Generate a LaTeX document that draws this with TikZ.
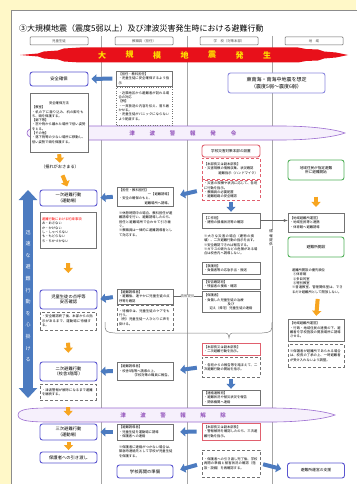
\documentclass[tikz,border=0pt]{standalone}
\usepackage{fontspec}
\setmainfont{Noto Sans CJK JP}
\XeTeXlinebreaklocale "ja"
\XeTeXlinebreakskip=0pt plus 0.5pt
\usepackage{tikz}
\usetikzlibrary{arrows.meta,calc}
\definecolor{pagebg}{HTML}{FFF8C8}
\definecolor{keyblue}{HTML}{5A55D0}
\definecolor{keygreen}{HTML}{52B05A}
\definecolor{boxred}{HTML}{E0606E}
\definecolor{arrblue}{HTML}{4C7BC0}
\definecolor{arrorange}{HTML}{F7A520}
\definecolor{bandred}{HTML}{E8101A}
\definecolor{bandtext}{HTML}{FFE100}
\definecolor{tsuline}{HTML}{9B6BD0}
\definecolor{tsufill}{HTML}{F6F0FC}
\definecolor{tsutext}{HTML}{9A5FC0}

\begin{document}
\begin{tikzpicture}[>=latex, x=1pt, y=-1pt,
  every node/.style={inner sep=0pt},
  txt/.style={font=\fontsize{3.3}{4.3}\selectfont, align=left, inner xsep=2pt, inner ysep=1.5pt, text width=52pt},
  plainbox/.style={txt, draw=black!55, line width=.4pt, fill=white},
  dashbox/.style={plainbox, densely dashed},
  redbox/.style={plainbox, draw=boxred, line width=.6pt},
  reddash/.style={redbox, densely dashed},
  keybox/.style={draw=keyblue, line width=.9pt, rounded corners=2.5pt, fill=white, align=center, font=\fontsize{4.3}{5.3}\selectfont, minimum width=57pt},
  gkeybox/.style={keybox, draw=keygreen},
  headbox/.style={draw=black!60, line width=.5pt, rounded corners=.8pt, minimum width=58pt, minimum height=8pt, font=\fontsize{3.4}{4}\selectfont, text=black!70},
  colline/.style={draw=black!35, line width=.4pt},
  barrow/.style={line width=4pt, draw=arrblue, -{Triangle[width=9pt,length=5pt]}, shorten <=4pt, shorten >=3pt},
  oarrow/.style={line width=4pt, draw=arrorange, -{Triangle[width=9pt,length=5pt]}},
  tsuband/.style={draw=tsuline, line width=.6pt, fill=tsufill},
  tsu/.style={text=tsutext, font=\fontsize{5.5}{6}\selectfont\bfseries}
]
\useasboundingbox (0,0) rectangle (356,484);
\fill[pagebg] (0,0) rectangle (356,484);
\draw[black!45, fill=white, line width=.6pt] (11,10) rectangle (362,490);

\node[anchor=west, font=\fontsize{8}{9}\selectfont] (title) at (19,28) {③大規模地震（震度5弱以上）及び津波災害発生時における避難行動};
\node[headbox] (h1) at (59,41) {児童生徒};
\node[headbox] (h2) at (144,41) {教職員（担任）};
\node[headbox] (h3) at (229,41) {学\quad 校（対策本部）};
\node[headbox] (h4) at (314,41) {地\quad 域};
\draw[colline] (101,36) -- (101,484);
\draw[colline] (187,36) -- (187,484);
\draw[colline] (272,36) -- (272,484);

\fill[bandred] (20,55) -- (38,53.5) -- (44,51.5) -- (58,50.5) -- (64,48.5) -- (80,47.5) -- (298,47.5) -- (306,49) -- (318,49.5) -- (324,51.5) -- (336,52.5) -- (348,55) -- (336,57.5) -- (324,58.5) -- (318,60.5) -- (306,61) -- (298,62.5) -- (80,62.5) -- (64,61.5) -- (58,59.5) -- (44,58.5) -- (38,56.5) -- cycle;
\foreach \ch [count=\i from 0] in {大,規,模,地,震,発,生}
  \node[text=bandtext, font=\fontsize{8}{9}\selectfont\bfseries] (quake\i) at ({102+27.5*\i},55) {\ch};

\draw[tsuband] (27,133) .. controls (27,127) and (40,126) .. (60,126) -- (280,126) .. controls (320,126) and (340,131) .. (345,133) .. controls (340,135) and (320,140) .. (280,140) -- (60,140) .. controls (40,140) and (27,139) .. (27,133) -- cycle;
\foreach \ch [count=\i from 0] in {津,波,警,報,発,令}
  \node[tsu] (warn\i) at ({132+20.3*\i},133) {\ch};
\draw[tsuband] (18,415) .. controls (18,409) and (30,408) .. (50,408) -- (270,408) .. controls (310,408) and (330,413) .. (335,415) .. controls (330,417) and (310,422) .. (270,422) -- (50,422) .. controls (30,422) and (18,421) .. (18,415) -- cycle;
\foreach \ch [count=\i from 0] in {津,波,警,報,解,除}
  \node[tsu] (lift\i) at ({123+20*\i},415) {\ch};

\coordinate (bigtop) at (28,190);
\coordinate (bigbot) at (28,398);
\draw[line width=9.5pt, draw=arrblue, {Triangle[width=18pt,length=10pt]}-{Triangle[width=18pt,length=10pt]}] (bigtop) -- (bigbot);
\node[text=white, align=center, font=\fontsize{5}{11.6}\selectfont] (bigtxt) at (28,296) {迅\\速\\な\\避\\難\\行\\動\\を\\心\\掛\\け\\る};

\node[keybox, minimum width=58pt, minimum height=14pt] (c1r1) at (59,79) {安全確保};
\node[plainbox, text width=54pt, minimum height=59pt] (c1r2) at (59,122.5) {\hfil 安全確保方法\\【教室】\\・机の下に潜り込み、机の脚をもち、頭を保護する。\\【廊下等】\\・窓や物から離れた場所で低い姿勢をとる。\\【その他】\\・落下物等の少ない場所に移動し、低い姿勢で頭を保護する。};
\node[font=\fontsize{4.2}{5}\selectfont] (c1r3) at (60,167) {（揺れがおさまる）};
\node[keybox, minimum height=16pt] (c1r4) at (68.5,198) {一次避難行動\\（運動場）};
\node[plainbox, minimum height=36pt] (c1r5) at (68,230) {{\color{red}避難行動における約束事項}\\お・おさない\\か・かけない\\し・しゃべらない\\も・もどらない\\ち・ちかづかない};
\node[keybox, minimum height=19pt] (c1r6) at (68.5,299.5) {児童生徒の点呼等\\安否確認};
\node[dashbox, minimum height=18pt] (c1r7) at (68,321) {・安全確認終了後、本部からの指示があるまで、運動場に待機する。};
\node[keybox, minimum height=19pt] (c1r8) at (68.5,371.5) {二次避難行動\\（校舎3階等）};
\node[dashbox, minimum height=16pt] (c1r9) at (68,392) {・津波警報が解除になるまで避難を継続する。};
\node[keybox, minimum height=16pt] (c1r10) at (68.5,432) {三次避難行動\\（運動場）};
\node[keybox, minimum height=11pt] (c1r11) at (68.5,457.5) {保護者への引き渡し};

\node[plainbox, minimum height=13pt] (c2r1) at (144.5,78.5) {【担任・教科担任】\\・児童生徒に安全確保するよう指示};
\node[dashbox, dotted, minimum height=38pt] (c2r2) at (144.5,106) {・近隣地区から避難者が訪れる場合の対応\\【例】\\・一斉放送の内容を伝え、落ち着かせる。\\・児童生徒がパニックにならないよう配慮する。};
\node[plainbox, minimum height=17pt] (c2r3) at (145,196.5) {【担任・教科担任】\\\hfill 一【避難誘導】\\・安全の確保のもと、\\\hfill 避難場所へ誘導。};
\node[txt, text width=54pt] (c2r4) at (146,224) {※休憩時間中の場合、教科担任が避難誘導を行い、避難誘導したのち、担任と避難場所で合わせて引き継ぐ。\\※教職員は一律的に避難誘導者として対応する。};
\node[plainbox, minimum height=13pt] (c2r5) at (145,296.5) {【避難誘導者】\\・避難後、速やかに児童生徒の点呼等を確認};
\node[dashbox, minimum height=25pt] (c2r6) at (145,317.5) {・待機中は、児童生徒のケアをも行う。\\（例）児童生徒一人ひとりに声を掛ける。};
\node[plainbox, minimum height=18pt] (c2r7) at (145,371) {【避難誘導者】\\・校舎3階等へ誘導の上、\\\hfill 学校対策の職員に報告。};
\node[plainbox, minimum height=16pt] (c2r8) at (145,432) {【避難誘導者】\\・児童生徒を運動場に誘導\\・保護者への連絡};
\node[txt, text width=54pt] (c2r9) at (146,451.5) {※保護者に連絡がつかない場合は、緊急時連絡先として学校が児童生徒を保護する。};
\node[keybox, minimum width=56pt, minimum height=13pt] (c2r10) at (145,471.5) {学校再開の準備};

\node[keybox, draw=boxred, minimum width=58pt, minimum height=12pt, font=\fontsize{3.6}{4.4}\selectfont] (c3r1) at (231,151) {学校災害対策本部の設置};
\node[reddash, text width=54pt, minimum height=21pt] (c3r2) at (231,168.5) {【本部長又は副本部長】\\・災害規模の情報収集、状況確認\\\hfill 避難指示（ハンドマイク）};
\node[reddash, text width=54pt, minimum height=20pt] (c3r3) at (231,190) {・災害の規模や状況に応じて、各班に行動を指示。\\・教職員の必要配置\\・避難経路の安全確認};
\node[plainbox, text width=54pt, minimum height=15pt] (c3r4) at (231,220.5) {【工作班】\\・建物の損壊状況等の確認};
\node[txt, text width=54pt] (c3r5) at (231,245) {※大きな災害の場合（建物の損壊）、二次避難行動の指示を出す。\\※安全確認できれば報告する。\\※ガラスの破片などの危険がある場合は校舎内へ誘導しない。};
\node[plainbox, text width=54pt, minimum height=12pt] (c3r6) at (231,268.5) {【救護班】\\・負傷者等の応急手当・搬送};
\node[plainbox, text width=54pt, minimum height=10pt] (c3r7) at (231,284) {【安否確認班】\\・残留者の捜索・確認};
\node[plainbox, text width=54pt, minimum height=21pt] (c3r8) at (231,302) {【保護者】\\・負傷した児童生徒の治療\\\hfill 及び\hfill\null\\\hfil 迎え（帰宅）児童生徒の連絡};
\node[redbox, text width=54pt, minimum height=12pt] (c3r9) at (231,349) {【本部長又は副本部長】\\・二次避難行動を指示。};
\node[dashbox, text width=54pt, minimum height=20pt] (c3r10) at (231,367) {・各班からの報告等を踏まえて、二次避難行動の開始を指示。};
\node[plainbox, text width=54pt, minimum height=15pt] (c3r11) at (231,397.5) {【連絡通報班】\\・避難状況や被災状況を報告\\・関係機関へ連絡};
\node[redbox, text width=54pt, minimum height=17pt] (c3r12) at (231,431.5) {【本部長又は副本部長】\\・警報解除を確認したのち、三次避難行動を指示。};
\node[dashbox, text width=54pt, minimum height=27pt] (c3r13) at (231,463.5) {・保護者への引き渡し完了後、学校再開の準備と被害状況の確認（施設・設備）を再確認する。};

\node[keybox, draw=keyblue!70, minimum width=97pt, minimum height=20pt, font=\fontsize{5}{6.5}\selectfont] (c4r0) at (276.5,83) {東南海・南海中地震を想定\\（震度5弱～震度6弱）};
\node[gkeybox, minimum width=56pt, minimum height=20pt, font=\fontsize{3.6}{4.6}\selectfont] (c4r1) at (316,170) {地域住民が指定避難\\所に避難開始};
\node[plainbox, minimum height=19pt] (c4r2) at (316,222.5) {【地域避難所運営】\\・地域住民等と連携\\・体育館へ避難誘導};
\node[gkeybox, minimum width=56pt, minimum height=20pt, font=\fontsize{3.8}{4.6}\selectfont] (c4r3) at (316,247) {避難所開設};
\node[txt] (c4r4) at (318,281) {避難所開設の優先順位\\\ ①体育館\\\ ②多目的室\\\ ③特別教室\\※普通教室、管理関係室は、できるだけ避難所として開放しない。};
\node[plainbox, minimum height=22pt] (c4r5) at (316,330) {【地域避難所運営】\\・行政・地域住民の連携の下、避難者を学校施設の開放場所に誘導させる。};
\node[dashbox, minimum height=23pt] (c4r6) at (316,355.5) {※保護者が避難所であられる場合は、校長の了承の上、一時避難者が受け入れないよう調整。};
\node[keybox, minimum width=57pt, minimum height=15pt, font=\fontsize{3.8}{4.6}\selectfont] (c4r7) at (316,470.5) {避難所運営の支援};

\draw[barrow] (c2r1.west) -- (c1r1.east);
\draw[barrow] (c2r3.west) -- (c1r4.east);
\draw[barrow] (c2r5.west) -- (c1r6.east);
\draw[barrow] (c2r7.west) -- (c1r8.east);
\draw[barrow] (c2r8.west) -- (c1r10.east);
\draw[barrow, shorten <=5pt, shorten >=7pt] (c3r3.west) -- (c2r3.east);
\draw[barrow, shorten <=5pt, shorten >=7pt] (c3r10.west) -- (c2r7.east);
\draw[barrow, shorten <=5pt, shorten >=7pt] (c3r12.west) -- (c2r8.east);
\draw[barrow, shorten <=5pt, shorten >=7pt] (c3r13.west) -- (c2r10.east);
\draw[barrow, shorten <=3pt, shorten >=6pt] (c3r13.east) -- (c4r7.west);
\draw[barrow, shorten <=2pt, shorten >=1pt] (c3r3.south) -- (c3r4.north);
\draw[barrow, shorten <=2pt, shorten >=1pt] (c3r10.south) -- (c3r11.north);

\draw[oarrow, shorten <=2pt, shorten >=2pt] (c1r2.south) -- (c1r3.north);
\draw[oarrow] ($(c1r3.south)!.3!(c1r4.north)$) -- ($(c1r3.south)!.85!(c1r4.north)$);
\draw[oarrow] ($(c1r5.south)!.36!(c1r6.north)$) -- ($(c1r5.south)!.6!(c1r6.north)$);
\draw[oarrow] ($(c1r7.south)!.4!(c1r8.north)$) -- ($(c1r7.south)!.72!(c1r8.north)$);
\draw[oarrow] ($(c1r9.south)!.3!(c1r10.north)$) -- ($(c1r9.south)!.67!(c1r10.north)$);
\draw[oarrow, shorten <=1.5pt, shorten >=1.5pt] (c1r10.south) -- (c1r11.north);
\draw[oarrow] ($(c4r1.south)!.5!(c4r2.north)$) -- ($(c4r1.south)!.82!(c4r2.north)$);
\draw[oarrow, shorten <=4pt, shorten >=3pt] (c4r4.south) -- (c4r5.north);

\draw[->, black!60, line width=.4pt] (c3r4.east) -- (c3r4.east -| c4r2.west);
\node[fill=white, align=center, font=\fontsize{3.4}{4.4}\selectfont] (info1) at (271,238) {情\\報\\提\\供};
\draw[black!60, line width=.4pt] (c2r5.east) -- node[fill=white, font=\fontsize{3.4}{4}\selectfont] (info2) {情報提供} (c2r5.east -| c3r8.west);
\draw[black!50, line width=.5pt] (105,322) .. controls (105,332) .. (115,333) -- (222,333) .. controls (228,333) .. (229,338) .. controls (230,333) .. (236,333) -- (262,333) .. controls (272,332) .. (272,322);
\end{tikzpicture}
\end{document}
